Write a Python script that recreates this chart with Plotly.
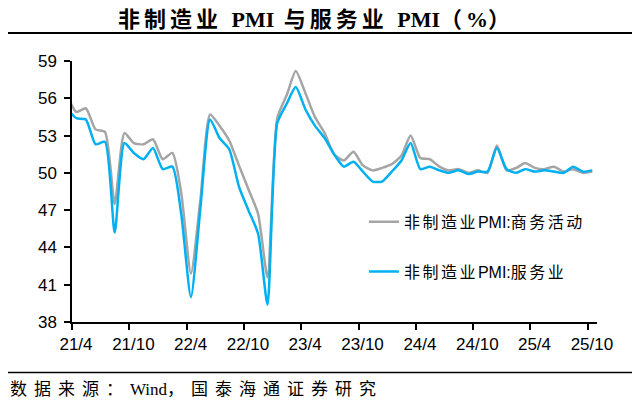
import re
import pandas as pd
import plotly.graph_objects as go

# ---- data ----
months = pd.date_range("2021-03-01", "2025-10-01", freq="MS")
nonmfg_pmi = [
    56.3, 54.9, 55.2, 53.5, 53.3, 47.5, 53.2, 52.4, 52.3, 52.7,
    51.1, 51.6, 48.4, 41.9, 47.8, 54.7, 53.8, 52.6, 50.6, 48.7, 46.7, 41.6,
    54.4, 56.3, 58.2, 56.4, 54.5, 53.2, 51.5, 51.0, 51.7, 50.6, 50.2, 50.4,
    50.7, 51.4, 53.0, 51.2, 51.1, 50.5, 50.2, 50.3, 50.0, 50.2, 50.0, 52.2,
    50.2, 50.4, 50.8, 50.4, 50.3, 50.5, 50.1, 50.3, 50.0, 50.1,
]
services_pmi = [
    55.2, 54.4, 54.3, 52.3, 52.5, 45.2, 52.4, 51.6, 51.1, 52.0,
    50.3, 50.5, 46.7, 40.0, 47.1, 54.3, 52.8, 51.9, 48.9, 47.0, 45.1, 39.4,
    54.0, 55.6, 56.9, 55.1, 53.8, 52.8, 51.5, 50.5, 50.9, 50.1, 49.3, 49.3,
    50.1, 51.0, 52.4, 50.3, 50.5, 50.2, 50.0, 50.2, 49.9, 50.1, 50.1, 52.0,
    50.3, 50.0, 50.3, 50.1, 50.2, 50.1, 50.0, 50.5, 50.1, 50.2,
]
series_names = ["非制造业PMI:商务活动", "非制造业PMI:服务业"]
tick_dates = pd.date_range("2021-04-01", "2025-10-01", freq="6MS")
tick_labels = ["21/4", "21/10", "22/4", "22/10", "23/4", "23/10", "24/4", "24/10", "25/4", "25/10"]

title_text = "非制造业 PMI 与服务业 PMI（%）"
source_text = "数据来源：Wind，国泰海通证券研究"

# monthly observations plotted mid-month
x_dates = months + pd.Timedelta(days=14)

colors = ["#A5A5A5", "#00B0F0"]

_cjk = re.compile(r"([ \u3000-\u303f\u4e00-\u9fff\uff00-\uffef]+)")

def spaced(s, px):
    """letter-space only the CJK runs (and spaces) of a string"""
    parts = _cjk.split(s)
    out = []
    for p in parts:
        if not p:
            continue
        if _cjk.fullmatch(p):
            out.append(f'<span style="letter-spacing:{px}px">{p.replace(" ", chr(160))}</span>')
        else:
            out.append(p)
    return "".join(out)

fig = go.Figure()
for i, (name, vals) in enumerate(zip(series_names, [nonmfg_pmi, services_pmi])):
    fig.add_trace(go.Scatter(
        x=x_dates, y=vals, mode="lines", name=spaced(name, 2.5),
        line=dict(color=colors[i], width=2.5, shape="spline", smoothing=0.6),
        legendgroup=str(i),
    ))

axis_font = dict(family="Liberation Sans, Arial, sans-serif", size=17, color="#000000")

# page body has an 8px margin: figure is drawn 8px in from the window corner
W, H = 632, 396
fig.update_layout(
    width=W, height=H,
    margin=dict(l=64, r=43, t=53, b=82, autoexpand=False),
    paper_bgcolor="white", plot_bgcolor="white",
    showlegend=True,
    legend=dict(
        x=0.556, y=0.449, xanchor="left", yanchor="top",
        bgcolor="rgba(0,0,0,0)", tracegroupgap=26,
        font=dict(family="Liberation Sans, Noto Sans CJK SC, sans-serif", size=16, color="#000000"),
        traceorder="grouped",
    ),
    title=dict(
        text="<b>" + spaced(title_text, 4) + "</b>",
        x=(316 - 8) / W, xref="container", xanchor="center",
        y=1 - (19 - 8) / H, yref="container", yanchor="middle",
        font=dict(family="Liberation Serif, Noto Sans CJK SC, serif", size=22, color="#000000"),
    ),
    xaxis=dict(
        type="date",
        range=["2021-04-01", "2025-10-30"],
        tickmode="array", tickvals=tick_dates, ticktext=tick_labels,
        ticks="outside", ticklen=6, tickwidth=1.5, tickcolor="#000000",
        showline=True, linecolor="#000000", linewidth=1.5,
        showgrid=False, zeroline=False, automargin=False,
        tickfont=axis_font, ticklabelshift=4,
    ),
    yaxis=dict(
        range=[38, 59], tick0=38, dtick=3,
        ticks="outside", ticklen=6, tickwidth=1.5, tickcolor="#000000",
        showline=True, linecolor="#000000", linewidth=1.5,
        showgrid=False, zeroline=False, automargin=False,
        tickfont=axis_font, ticklabelstandoff=4,
    ),
)

# header / footer rules
fig.add_shape(type="line", xref="paper", yref="paper",
              x0=(4 - 72) / 525, x1=(640 - 72) / 525,
              y0=1 + (61 - 33) / 261, y1=1 + (61 - 33) / 261,
              line=dict(color="#000000", width=2))
fig.add_shape(type="line", xref="paper", yref="paper",
              x0=(4 - 72) / 525, x1=(640 - 72) / 525,
              y0=-(372.5 - 322) / 261, y1=-(372.5 - 322) / 261,
              line=dict(color="#000000", width=1.5))

fig.add_annotation(
    text=spaced(source_text, 7),
    xref="paper", yref="paper", x=(8 - 72) / 525, y=-(389 - 322) / 261,
    xanchor="left", yanchor="middle", showarrow=False,
    font=dict(family="Liberation Serif, Noto Sans CJK SC, serif", size=17, color="#000000"),
)

fig.write_html("out.html")
